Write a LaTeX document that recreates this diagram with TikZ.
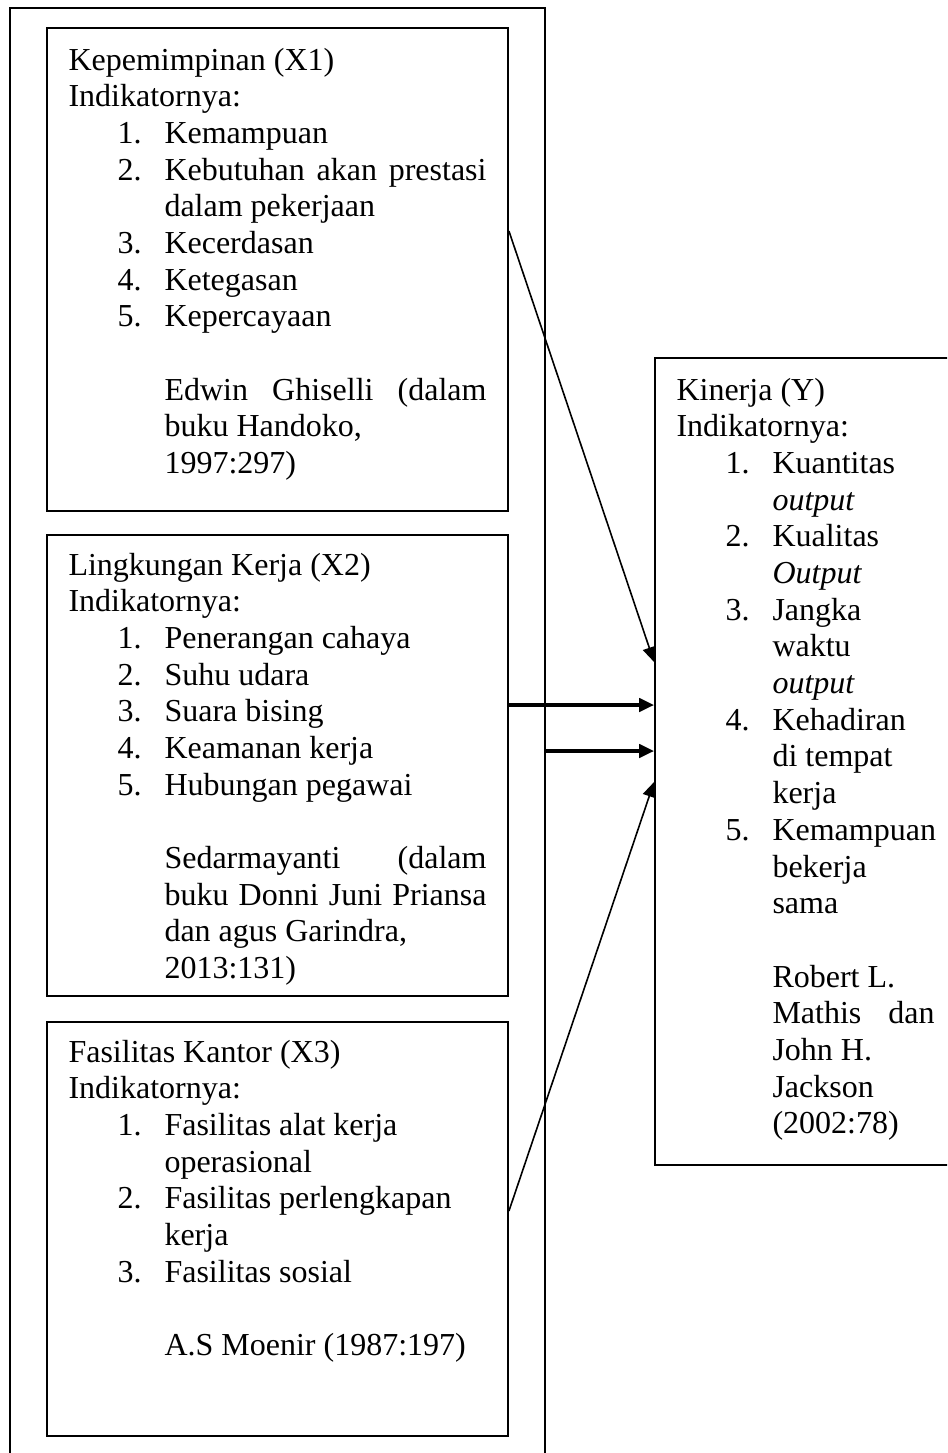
\documentclass[tikz,border=0pt]{standalone}
\usepackage{fontspec}
\setmainfont{Liberation Serif}
\usetikzlibrary{arrows.meta,fit}

\newcommand{\itm}[2]{\hspace*{18.4pt}\makebox[17.6pt][l]{#1}#2}
\newcommand{\lnj}[1]{\hspace*{36pt}#1}
\newcommand{\rata}[2]{\makebox[#1][s]{#2}}

\tikzset{
	kotak/.style={draw, line width=0.7pt, inner sep=0pt},
	luarbox/.style={draw, line width=1pt, inner sep=0pt},
	teks/.style={anchor=base west, inner sep=0pt, font=\fontsize{12}{13.76}\selectfont},
	panah/.style={-{Triangle[length=5.6pt,width=5pt]}, line width=0.6pt},
	panahtebal/.style={-{Triangle[length=5.6pt,width=5pt]}, line width=1.25pt}
}

\begin{document}
\begin{tikzpicture}[x=0.375pt, y=-0.375pt]
	\useasboundingbox (0,0) rectangle (947,1453);
	\clip (0,0) rectangle (947,1453);
	% kotak
	\node[luarbox, fit={(10,8) (545,1480)}] (luar) {};
	\node[kotak, fit={(47,28) (508,511)}] (x1) {};
	\node[kotak, fit={(47,535) (508,996)}] (x2) {};
	\node[kotak, fit={(47,1022) (508,1436)}] (x3) {};
	\node[kotak, fit={(655,358) (960,1165)}] (y) {};
	% teks
	\node[teks] (t1) at (68,70) {\parbox[t]{157pt}{%
		Kepemimpinan (X1)\\
		Indikatornya:\\
		\itm{1.}{Kemampuan}\\
		\itm{2.}{\rata{120.75pt}{Kebutuhan akan prestasi}}\\
		\lnj{dalam pekerjaan}\\
		\itm{3.}{Kecerdasan}\\
		\itm{4.}{Ketegasan}\\
		\itm{5.}{Kepercayaan}\\[13.76pt]
		\lnj{\rata{120.75pt}{Edwin Ghiselli (dalam}}\\
		\lnj{buku Handoko,}\\
		\lnj{1997:297)}}};
	\node[teks] (t2) at (68,575) {\parbox[t]{157pt}{%
		Lingkungan Kerja (X2)\\
		Indikatornya:\\
		\itm{1.}{Penerangan cahaya}\\
		\itm{2.}{Suhu udara}\\
		\itm{3.}{Suara bising}\\
		\itm{4.}{Keamanan kerja}\\
		\itm{5.}{Hubungan pegawai}\\[13.76pt]
		\lnj{\rata{120.75pt}{Sedarmayanti (dalam}}\\
		\lnj{\rata{120.75pt}{buku Donni Juni Priansa}}\\
		\lnj{dan agus Garindra,}\\
		\lnj{2013:131)}}};
	\node[teks] (t3) at (68,1062) {\parbox[t]{157pt}{%
		Fasilitas Kantor (X3)\\
		Indikatornya:\\
		\itm{1.}{Fasilitas alat kerja}\\
		\lnj{operasional}\\
		\itm{2.}{Fasilitas perlengkapan}\\
		\lnj{kerja}\\
		\itm{3.}{Fasilitas sosial}\\[13.76pt]
		\lnj{A.S Moenir (1987:197)}}};
	\node[teks] (ty) at (676,400) {\parbox[t]{97pt}{%
		Kinerja (Y)\\
		Indikatornya:\\
		\itm{1.}{Kuantitas}\\
		\lnj{\textit{output}}\\
		\itm{2.}{Kualitas}\\
		\lnj{\textit{Output}}\\
		\itm{3.}{Jangka}\\
		\lnj{waktu}\\
		\lnj{\textit{output}}\\
		\itm{4.}{Kehadiran}\\
		\lnj{di tempat}\\
		\lnj{kerja}\\
		\itm{5.}{Kemampuan}\\
		\lnj{bekerja}\\
		\lnj{sama}\\[13.76pt]
		\lnj{Robert L.}\\
		\lnj{\rata{60.75pt}{Mathis dan}}\\
		\lnj{John H.}\\
		\lnj{Jackson}\\
		\lnj{(2002:78)}}};
	% panah
	\draw[panah] (x1.east |- 0,231) -- (y.west |- 0,662);
	\draw[panahtebal] (x2.east |- 0,705) -- (y.west |- 0,705);
	\draw[panahtebal] (luar.east |- 0,751) -- (y.west |- 0,751);
	\draw[panah] (x3.east |- 0,1211) -- (y.west |- 0,782);
\end{tikzpicture}
\end{document}
